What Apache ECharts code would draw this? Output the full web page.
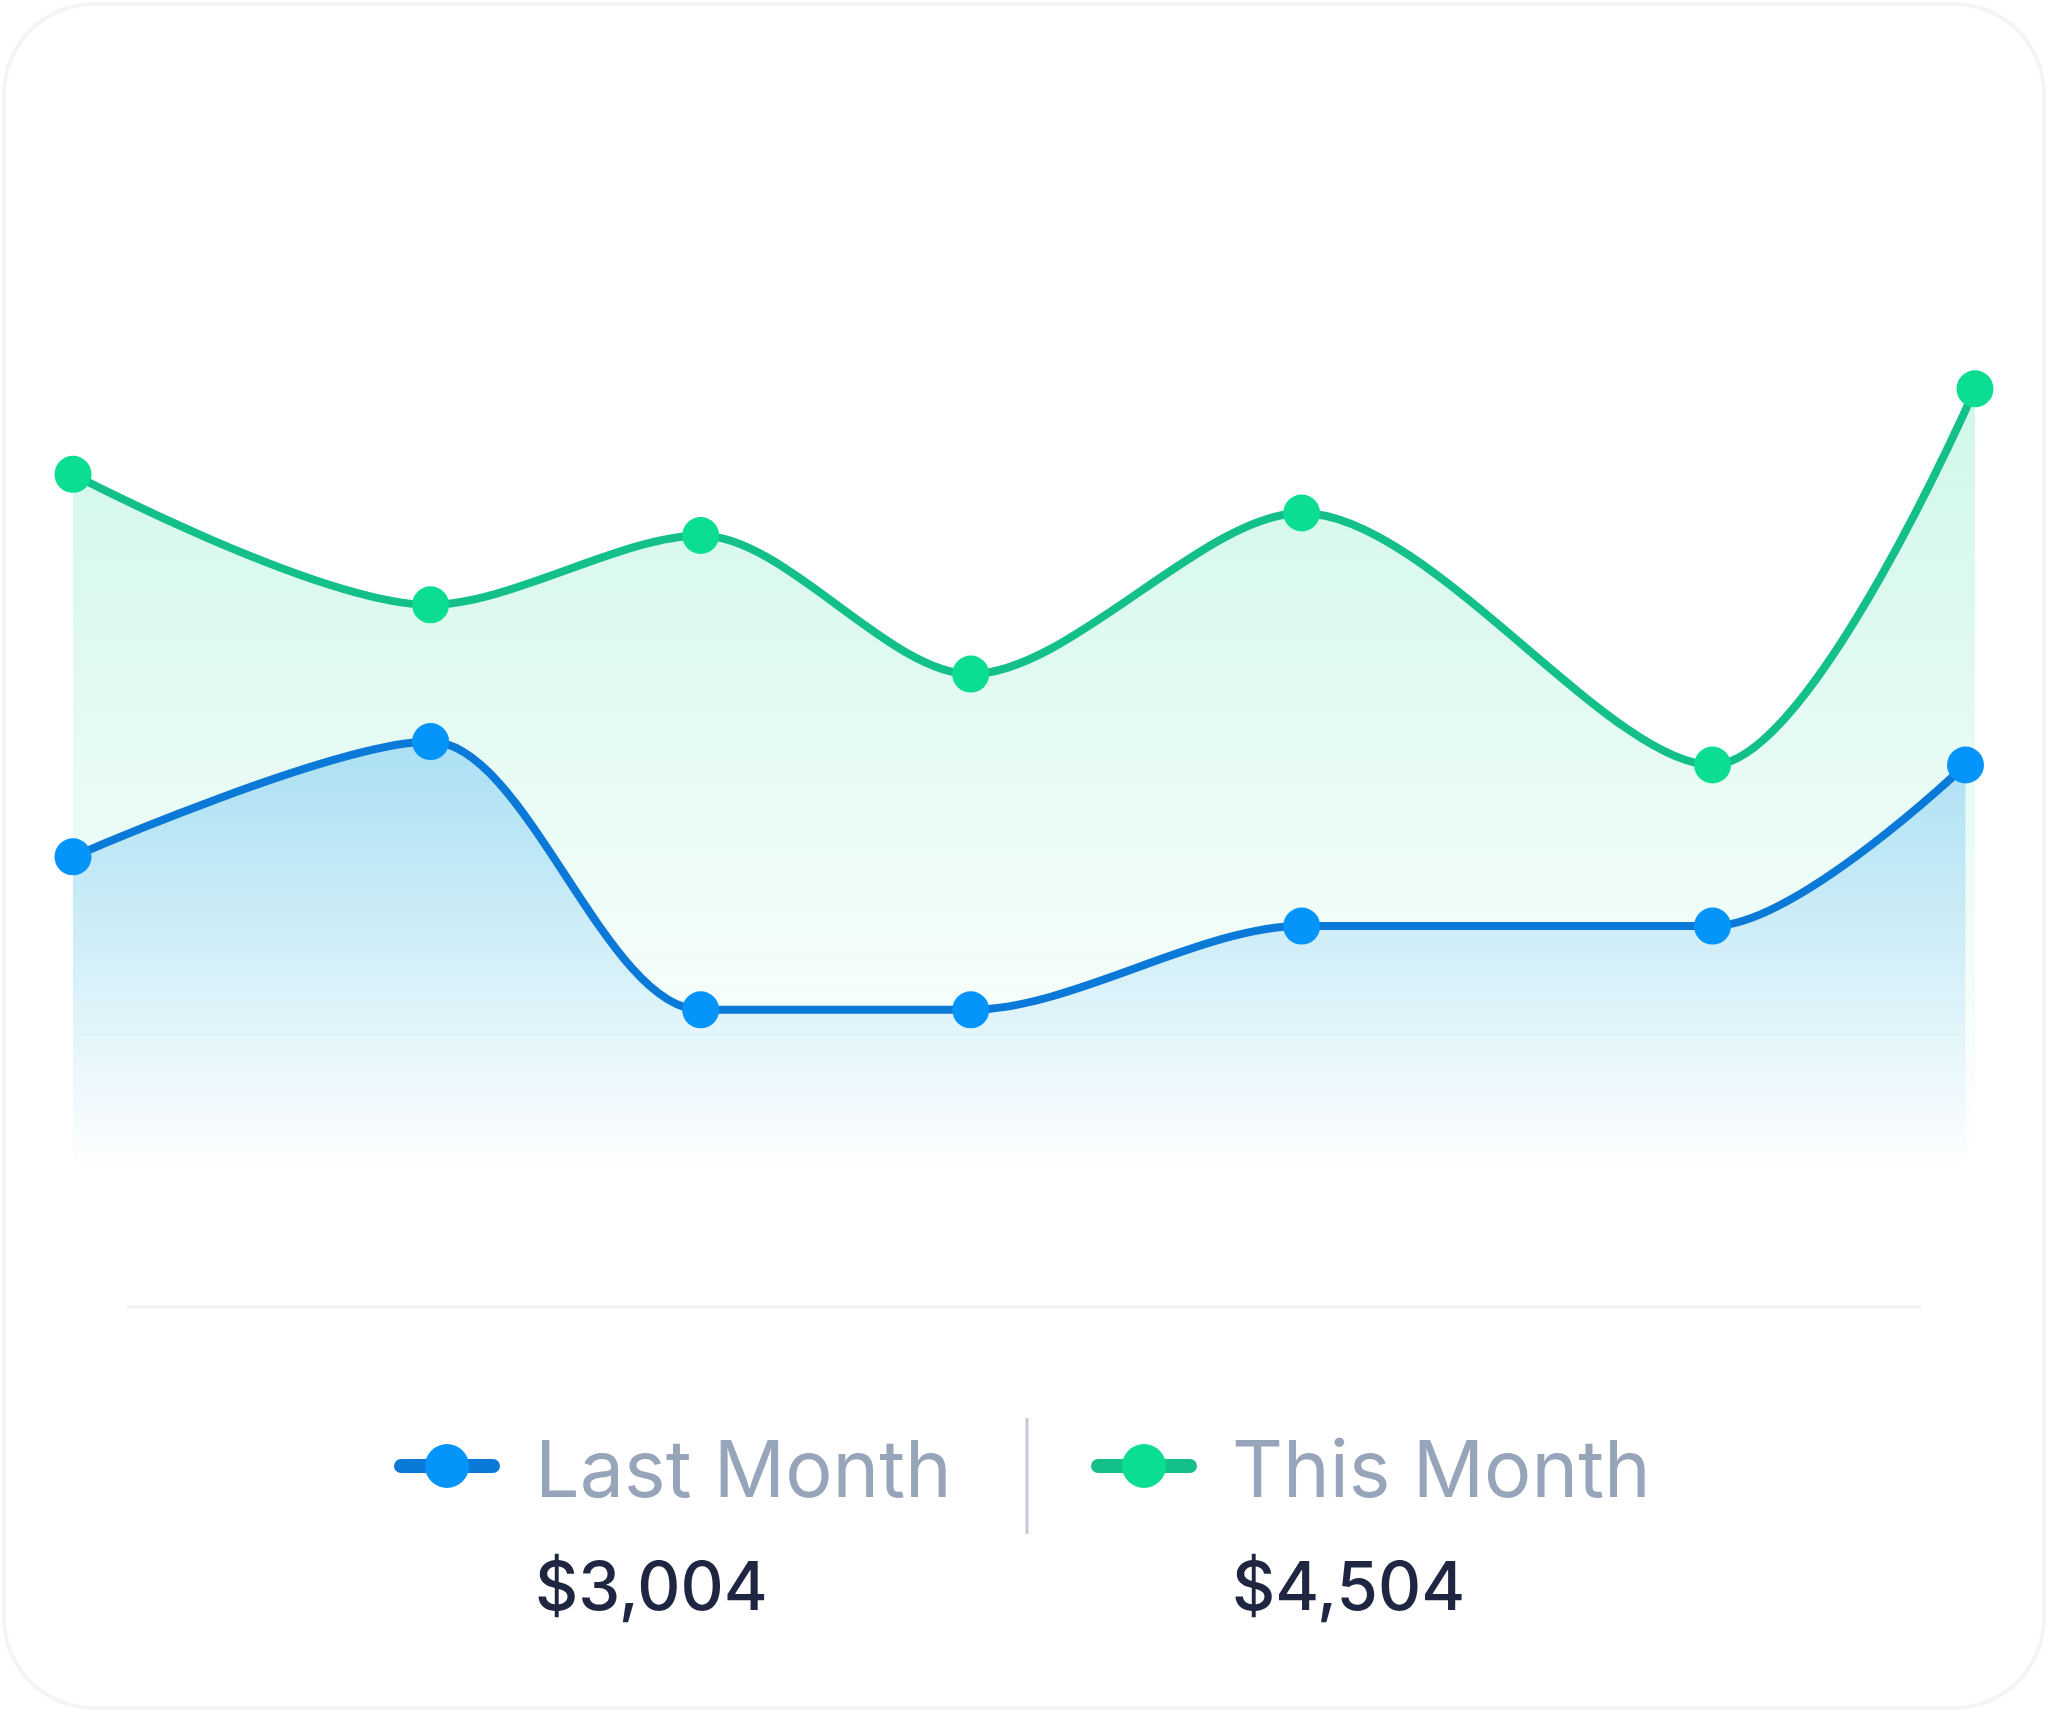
<!DOCTYPE html>
<html>
<head>
<meta charset="utf-8">
<script src="https://cdn.jsdelivr.net/npm/echarts@6/dist/echarts.min.js"></script>
<style>
  html, body { margin: 0; padding: 0; background: #ffffff; }
  #card { position: absolute; left: 2px; top: 2px; width: 2044px; height: 1708px; box-sizing: border-box;
          border: 4px solid #f2f4f6; border-radius: 92px; background: #ffffff; }
  #chart { position: absolute; left: 0; top: 0; width: 2048px; height: 1712px; }
</style>
</head>
<body>
<div id="card"></div>
<div id="chart"></div>
<script>
// ---- data ----
const seriesNames = ['Last Month', 'This Month'];
const totals = ['$3,004', '$4,504'];
const xLast = [0, 18.8, 33.0, 47.2, 64.6, 86.2, 99.5];
const lastMonth = [34.8, 47.6, 17.8, 17.8, 27.1, 27.1, 45.0];
const xThis = [0, 18.8, 33.0, 47.2, 64.6, 86.2, 100];
const thisMonth = [77.3, 62.8, 70.5, 55.1, 73.0, 45.0, 86.8];

const pairs = (xs, ys) => xs.map((x, i) => [x, ys[i]]);

const FONT = 'Inter, "Open Sans", "Noto Sans", sans-serif';
const chart = echarts.init(document.getElementById('chart'), null, { renderer: 'canvas' });

function grad(r, g, b, a0) {
  return new echarts.graphic.LinearGradient(0, 0, 0, 1, [
    { offset: 0, color: `rgba(${r},${g},${b},${a0})` },
    { offset: 1, color: `rgba(${r},${g},${b},0)` }
  ]);
}

function legendItem(x0, lineColor, dotColor, name, total) {
  return [
    { type: 'line', z: 100, shape: { x1: x0 - 46, y1: 1466, x2: x0 + 46, y2: 1466 },
      style: { stroke: lineColor, lineWidth: 14, lineCap: 'round' } },
    { type: 'circle', z: 101, shape: { cx: x0, cy: 1466, r: 22 }, style: { fill: dotColor } },
    { type: 'text', z: 100, x: x0 + 88, y: 1473,
      style: { text: name, font: '400 79px ' + FONT, fill: '#97a5ba', verticalAlign: 'middle', align: 'left' } },
    { type: 'text', z: 100, x: x0 + 88, y: 1590,
      style: { text: total, font: '500 67px ' + FONT, fill: '#1f2641', verticalAlign: 'middle', align: 'left' } }
  ];
}

const option = {
  animation: false,
  grid: { left: 73, right: 73, top: 270, bottom: 542 },
  xAxis: { type: 'value', min: 0, max: 100, show: false },
  yAxis: { type: 'value', min: 0, max: 100, show: false },
  series: [
    {
      name: seriesNames[1], type: 'line', smooth: 0.3, clip: false,
      data: pairs(xThis, thisMonth),
      symbol: 'circle', symbolSize: 37,
      lineStyle: { color: '#14c08a', width: 8 },
      itemStyle: { color: '#0bde93' },
      areaStyle: { color: grad(16, 214, 140, 0.28) },
      z: 2
    },
    {
      name: seriesNames[0], type: 'line', smooth: 0.3, clip: false,
      data: pairs(xLast, lastMonth),
      symbol: 'circle', symbolSize: 37,
      lineStyle: { color: '#0a79d7', width: 8 },
      itemStyle: { color: '#0594fa' },
      areaStyle: { color: grad(8, 150, 245, 0.38) },
      z: 3
    }
  ],
  graphic: [
    { type: 'line', z: 100, shape: { x1: 127, y1: 1307, x2: 1921, y2: 1307 },
      style: { stroke: '#edf1f6', lineWidth: 3 } },
    { type: 'line', z: 100, shape: { x1: 1027, y1: 1418, x2: 1027, y2: 1534 },
      style: { stroke: '#c3ccd7', lineWidth: 3 } },
    ...legendItem(447, '#0a79d7', '#0594fa', seriesNames[0], totals[0]),
    ...legendItem(1144, '#14c08a', '#0bde93', seriesNames[1], totals[1])
  ]
};
chart.setOption(option);
</script>
</body>
</html>
